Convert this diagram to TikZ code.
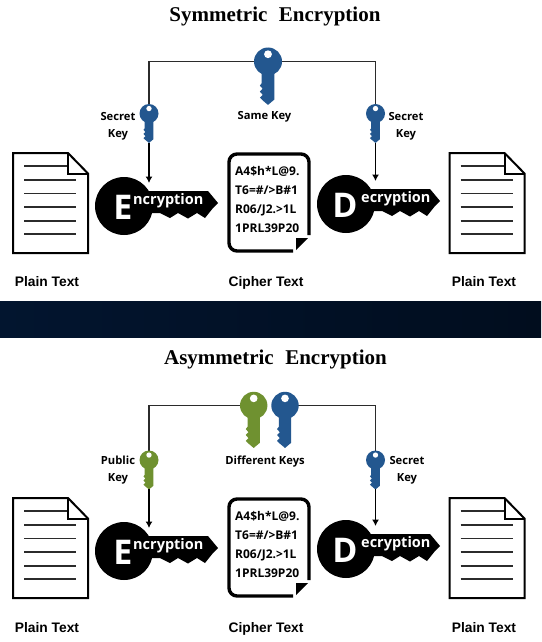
\documentclass[tikz,border=0pt]{standalone}
\usepackage{fontspec}
\setmainfont{Liberation Serif}
\newfontfamily\keyfont{Open Sans}
\newfontfamily\plainfont{Liberation Sans}
\newfontfamily\titlefont[WordSpace=2.2]{Liberation Serif}
\usetikzlibrary{arrows.meta,positioning,backgrounds}
\definecolor{ink}{HTML}{2B2B2B}
\definecolor{keyblue}{HTML}{23578F}
\definecolor{keygreen}{HTML}{6F9130}
\definecolor{bandleft}{HTML}{02152F}
\definecolor{bandright}{HTML}{010D1E}
\tikzset{
  wire/.style={draw=ink,line width=1.1pt},
  arrow/.style={-{Latex[length=6.5pt,width=7pt]},line width=1.1pt,draw=black},
  titlelabel/.style={font=\titlefont\bfseries\fontsize{21}{24}\selectfont,inner sep=0pt},
  keylabel/.style={font=\keyfont\bfseries\fontsize{11.2}{17}\selectfont,align=center,inner sep=0pt},
  plainlabel/.style={font=\plainfont\bfseries\fontsize{13.8}{15}\selectfont,inner sep=0pt,anchor=base},
  pics/keyicon/.style={code={
    \fill (0,0) circle[radius=1];
    \fill (-.45,.7) -- (-.45,1.55) -- (-.58,1.72) -- (-.38,1.95) -- (-.58,2.15) -- (-.38,2.38)
      -- (-.58,2.58) -- (-.38,2.78) -- (0,3.1) -- (.45,2.72) -- (.45,.7) -- cycle;
    \fill[white] (0,-.52) circle[radius=.28];
    \coordinate (-head) at (0,0);
    \coordinate (-tip) at (0,3.1);
  }},
  pics/bigkey/.style n args={3}{code={
    \fill (0,0) circle[radius=29];
    \fill (15,-15) -- (84,-15) -- (94,-3) -- (89,2) -- (81,12) -- (73,7) -- (64,12.5) -- (54,7)
      -- (46,12) -- (36,7) -- (15,7) -- cycle;
    \node[font=\keyfont\bfseries\fontsize{34}{34}\selectfont,text=white,inner sep=0pt] (-letter)
      at (-1,1.5) {#1};
    \node[font=\keyfont\bfseries\fontsize{14.5}{15}\selectfont,text=white,inner sep=0pt,
      anchor=base west] (-word) at (#3,-1.5) {#2};
    \coordinate (-in) at (0,-23);
  }},
  pics/plaindoc/.style={code={
    \draw[line width=2pt,line join=miter] (0,0) -- (55,0) -- (75,20.5) -- (75,100) -- (0,100) -- cycle;
    \draw[line width=2pt] (55,0) -- (55,20.5) -- (75,20.5);
    \draw[draw=ink,line width=1.4pt] (11,13) -- (54,13);
    \draw[draw=ink,line width=1.4pt] (11,27) -- (63,27);
    \draw[draw=ink,line width=1.4pt] (11,40.5) -- (63,40.5);
    \draw[draw=ink,line width=1.4pt] (11,54) -- (63,54);
    \draw[draw=ink,line width=1.4pt] (11,68) -- (63,68);
    \draw[draw=ink,line width=1.4pt] (11,81) -- (63,81);
  }},
  pics/cipherdoc/.style={code={
    \draw[line width=3.4pt,rounded corners=8pt] (64,97) -- (0,97) -- (0,0) -- (80,0) -- (80,81);
    \fill (67,84) -- (79,84) -- (67,96) -- cycle;
    \node[font=\keyfont\bfseries\fontsize{12}{19}\selectfont,align=left,inner sep=0pt,anchor=north west]
      (-body) at (6,12.5) {A4\$h*L@9.\\T6=\#/>B\#1\\R06/J2.>1L\\1PRL39P20};
  }}
}
\begin{document}
\begin{tikzpicture}[x=1pt,y=-1pt]
\useasboundingbox (0,0) rectangle (541,642);
\shade[left color=bandleft,right color=bandright] (0,301) rectangle (541,337);

% symmetric
\node[titlelabel] (symtitle) at (275,16) {Symmetric Encryption};
\pic[color=keyblue,scale=14] (symtop) at (268,61.5) {keyicon};
\pic[color=keyblue,scale=9.5] (symleft) at (149,113.5) {keyicon};
\pic[color=keyblue,scale=9.5] (symright) at (375.5,113.5) {keyicon};
\node[keylabel] (symsame) at (264.5,117) {Same Key};
\node[keylabel] (symleftname) at (118,126) {Secret\\Key};
\node[keylabel] (symrightname) at (406,126) {Secret\\Key};
\pic (symplain) at (13,153) {plaindoc};
\pic (symcipher) at (229,154) {cipherdoc};
\pic (symout) at (449.5,153) {plaindoc};
\pic (symenc) at (124,206) {bigkey={E}{ncryption}{9}};
\pic (symdec) at (346,204) {bigkey={D}{ecryption}{15}};
\node[plainlabel] (symplainname) at (47,286.5) {Plain Text};
\node[plainlabel] (symciphername) at (266,286.5) {Cipher Text};
\node[plainlabel] (symoutname) at (484,286.5) {Plain Text};

% asymmetric
\node[titlelabel] (asymtitle) at (275.5,359) {Asymmetric Encryption};
\pic[color=keygreen,scale=13.7] (asymgreen) at (253.7,405.5) {keyicon};
\pic[color=keyblue,scale=13.7] (asymblue) at (285,405.5) {keyicon};
\pic[color=keygreen,scale=9.5] (asymleft) at (149,460) {keyicon};
\pic[color=keyblue,scale=9.5] (asymright) at (375.5,460) {keyicon};
\node[keylabel] (asymdiff) at (265,461.5) {Different Keys};
\node[keylabel] (asymleftname) at (118,470) {Public\\Key};
\node[keylabel] (asymrightname) at (407,470) {Secret\\Key};
\pic (asymplain) at (13,498) {plaindoc};
\pic (asymcipher) at (229,499) {cipherdoc};
\pic (asymout) at (449.5,498) {plaindoc};
\pic (asymenc) at (124,551) {bigkey={E}{ncryption}{9}};
\pic (asymdec) at (346,549) {bigkey={D}{ecryption}{15}};
\node[plainlabel] (asymplainname) at (47,632) {Plain Text};
\node[plainlabel] (asymciphername) at (266,632) {Cipher Text};
\node[plainlabel] (asymoutname) at (484,632) {Plain Text};

\begin{scope}[on background layer]
\fill[white] (0,0) rectangle (541,642);
\draw[wire] (symtop-head) -| (symleft-head);
\draw[wire] (symtop-head) -| (symright-head);
\draw[wire] (asymgreen-head) -| (asymleft-head);
\draw[wire] (asymblue-head) -| (asymright-head);
\end{scope}
\draw[arrow] (symleft-tip) -- (symleft-tip |- symenc-in);
\draw[arrow] (symright-tip) -- (symright-tip |- symdec-in);
\draw[arrow] (asymleft-tip) -- (asymleft-tip |- asymenc-in);
\draw[arrow] (asymright-tip) -- (asymright-tip |- asymdec-in);
\end{tikzpicture}
\end{document}
